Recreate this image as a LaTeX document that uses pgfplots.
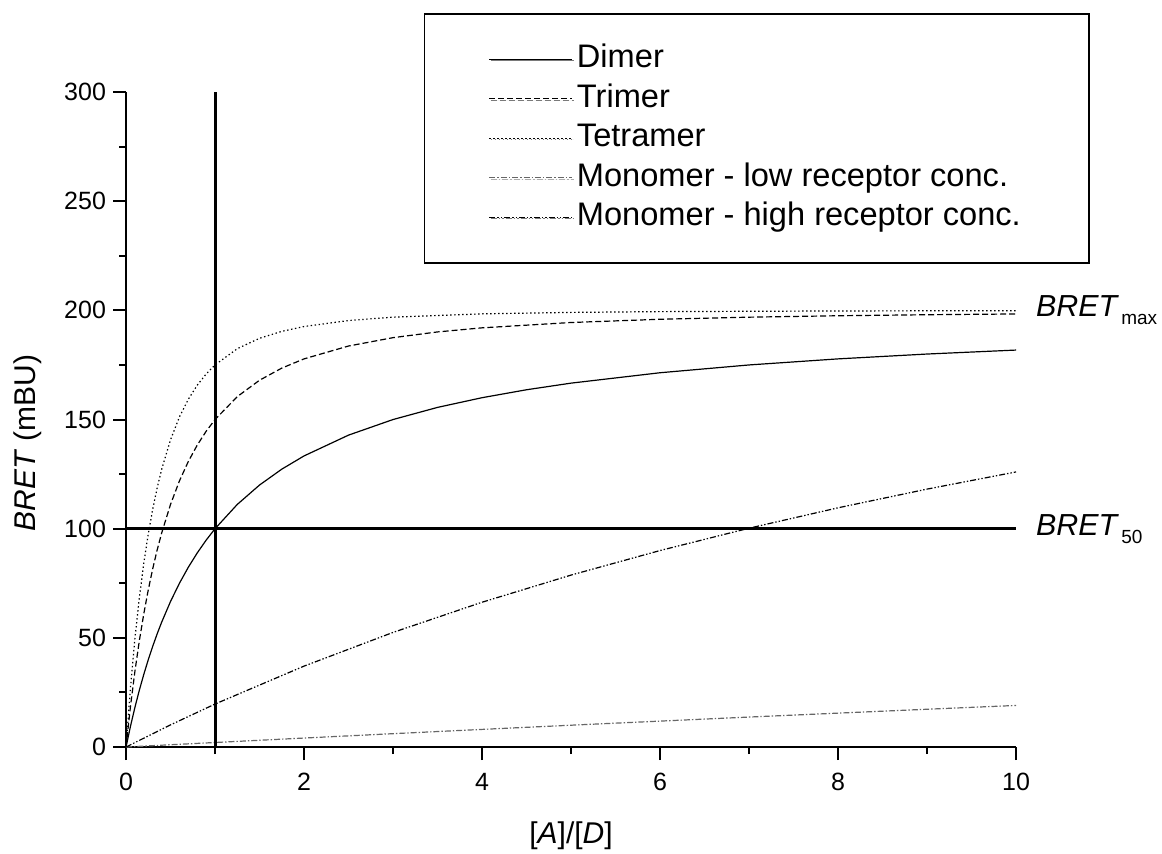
\documentclass[border=0pt]{standalone}
\usepackage{fontspec}
\setmainfont{Liberation Sans}
\usepackage{pgfplots}
\usepackage{pgfplotstable}
\usetikzlibrary{shadows}
\pgfplotsset{compat=1.18}

% saturation curves
\pgfplotstableread{
x y
0 0
0.05 9.52
0.1 18.18
0.15 26.09
0.2 33.33
0.25 40.00
0.3 46.15
0.35 51.85
0.4 57.14
0.5 66.67
0.6 75.00
0.7 82.35
0.8 88.89
0.9 94.74
1 100
1.25 111.11
1.5 120.00
1.75 127.27
2 133.33
2.5 142.86
3 150.00
3.5 155.56
4 160.00
4.5 163.64
5 166.67
6 171.43
7 175.00
8 177.78
9 180.00
10 181.82
}\dimer

\pgfplotstableread{
x y
0 0
0.05 18.59
0.1 34.71
0.15 48.77
0.2 61.11
0.25 72.00
0.3 81.66
0.35 90.26
0.4 97.96
0.5 111.11
0.6 121.88
0.7 130.80
0.8 138.27
0.9 144.60
1 150.00
1.25 160.49
1.5 168.00
1.75 173.55
2 177.78
2.5 183.67
3 187.50
3.5 190.12
4 192.00
5 194.44
6 195.92
7 196.88
8 197.53
9 198.00
10 198.35
}\trimer

\pgfplotstableread{
x y
0 0
0.05 27.23
0.1 49.74
0.15 68.50
0.2 84.26
0.25 97.60
0.3 108.97
0.35 118.70
0.4 127.11
0.5 140.74
0.6 151.17
0.7 159.29
0.8 165.71
0.9 170.84
1 175.00
1.25 182.44
1.5 187.20
1.75 190.38
2 192.59
2.5 195.34
3 196.88
4 198.40
5 199.07
6 199.42
8 199.73
10 199.85
}\tetramer

\pgfplotstableread{
x y
0 0
0.5 1.05
1 2.08
2 4.12
3 6.12
4 8.08
5 10.00
6 11.88
7 13.73
8 15.53
9 17.31
10 19.05
}\monolow

\pgfplotstableread{
x y
0 0
0.5 10.16
1 19.69
2 37.06
3 52.50
4 66.32
5 78.75
6 90.00
7 100.23
8 109.57
9 118.13
10 126.00
}\monohigh

\newcommand{\bretlabel}[1]{\textit{BRET}\kern1.2pt\raisebox{-0.5ex}{\fontsize{9.5}{10}\selectfont #1}}

\begin{document}
\begin{tikzpicture}
\begin{axis}[
  scale only axis,
  width=445pt, height=327.5pt,
  xmin=0, xmax=10, ymin=0, ymax=300,
  clip=false,
  axis x line*=bottom, axis y line*=left,
  axis line style={line width=1pt, -},
  tick align=outside,
  major tick length=6.5pt, minor tick length=3.5pt,
  every tick/.style={black, line width=1pt},
  xtick={0,2,...,10}, ytick={0,50,...,300},
  minor x tick num=1, minor y tick num=1,
  ticklabel style={font=\fontsize{12.5}{15}\selectfont},
  xticklabel style={yshift=-3pt},
  /pgf/number format/assume math mode=true,
  xlabel={[\textit{A}]/[\textit{D}]},
  ylabel={\textit{BRET} (mBU)},
  label style={font=\fontsize{15}{18}\selectfont},
  xlabel style={at={(axis description cs:0.5,-0.136)}, anchor=center},
  ylabel style={at={(axis description cs:-0.110,0.464)}, anchor=center},
  legend cell align=left,
  legend image code/.code={\draw[#1] (0pt,0pt) -- (41.5pt,0pt);},
  legend style={at={(rel axis cs:0.3348,1.1206)}, anchor=north west,
    draw=black, line width=0.75pt, fill=white,
    drop shadow={shadow xshift=0.8pt, shadow yshift=-0.8pt, fill=black!55},
    inner xsep=32pt, inner ysep=13pt,
    font=\fontsize{16.3}{19}\selectfont,
    nodes={inner sep=2pt, text height=12pt, text depth=3.5pt},
    row sep=0.25pt},
]
\addplot[black, line width=0.6pt] table {\dimer};
\addlegendentry{Dimer}
\addplot[black, line width=0.6pt, dash pattern=on 3pt off 1.5pt] table {\trimer};
\addlegendentry{Trimer}
\addplot[black, line width=0.6pt, dash pattern=on 0.7pt off 1.3pt] table {\tetramer};
\addlegendentry{Tetramer}
\addplot[black!60, line width=0.6pt, dash pattern=on 3pt off 1pt on 0.7pt off 1pt] table {\monolow};
\addlegendentry{Monomer - low receptor conc.}
\addplot[black, line width=0.6pt, dash pattern=on 3pt off 1pt on 0.7pt off 1pt on 0.7pt off 1pt] table {\monohigh};
\addlegendentry{Monomer - high receptor conc.}

% BRET50 and [A]/[D] = 1 guide lines
\addplot[black, line width=1.5pt, forget plot] coordinates {(0,100) (10,100)};
\addplot[black, line width=1.5pt, forget plot] coordinates {(1,0) (1,300)};

\node[anchor=west, inner sep=0pt, font=\fontsize{15.2}{18}\selectfont] at (axis cs:10.22,200) {\bretlabel{max}};
\node[anchor=west, inner sep=0pt, font=\fontsize{15.2}{18}\selectfont] at (axis cs:10.22,100) {\bretlabel{50}};

\coordinate (bbsw) at (rel axis cs:-0.1416,-0.1618);
\coordinate (bbne) at (rel axis cs:1.1640,1.1405);
\end{axis}
\pgfresetboundingbox
\path (bbsw) rectangle (bbne);
\end{tikzpicture}
\end{document}
